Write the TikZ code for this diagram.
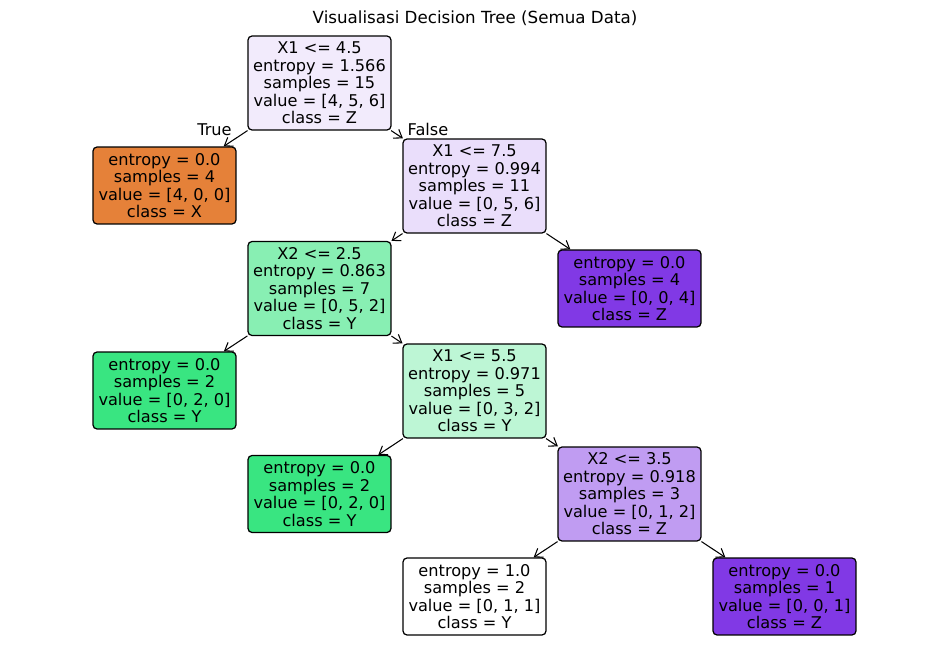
\documentclass[tikz,border=0pt]{standalone}
\usepackage{fontspec}
\setmainfont{DejaVu Sans}
\usetikzlibrary{arrows.meta}
\definecolor{oranye}{RGB}{229,129,57}
\definecolor{hijau}{RGB}{57,229,129}
\definecolor{ungu}{RGB}{129,57,229}
\definecolor{ungumuda}{RGB}{242,235,252}
\definecolor{ungusedang}{RGB}{234,222,251}
\definecolor{ungutua}{RGB}{192,156,242}
\definecolor{hijaumuda}{RGB}{189,246,213}
\definecolor{hijausedang}{RGB}{136,239,179}

\begin{document}
\begin{tikzpicture}[
    x=0.02cm, y=-0.02cm,
    font=\fontsize{9.2}{9.95}\selectfont,
    simpul/.style={draw, rounded corners=0.08cm, align=center, line width=0.7pt,
                   minimum width=2.86cm, minimum height=1.88cm, inner sep=0pt},
    daun/.style={simpul, minimum height=1.54cm},
    panah/.style={-{Straight Barb[length=1.5mm, width=2.1mm]}, line width=0.6pt},
    cabang/.style={inner sep=0pt}
  ]
    \useasboundingbox (0,0) rectangle (950,658);
    \node[font=\fontsize{9.5}{11}\selectfont] (judul) at (475,18) {Visualisasi Decision Tree (Semua Data)};
    \node[simpul, fill=ungumuda] (akar) at (319.5,83) {X1 <= 4.5\\entropy = 1.566\\samples = 15\\value = [4, 5, 6]\\class = Z};
    \node[daun, fill=oranye] (daunx) at (164.5,185.5) {entropy = 0.0\\samples = 4\\value = [4, 0, 0]\\class = X};
    \node[simpul, fill=ungusedang] (pecah1) at (474.5,186) {X1 <= 7.5\\entropy = 0.994\\samples = 11\\value = [0, 5, 6]\\class = Z};
    \node[daun, fill=ungu] (daunz4) at (629.5,288.5) {entropy = 0.0\\samples = 4\\value = [0, 0, 4]\\class = Z};
    \node[simpul, fill=hijausedang] (pecah2) at (319.5,288.5) {X2 <= 2.5\\entropy = 0.863\\samples = 7\\value = [0, 5, 2]\\class = Y};
    \node[daun, fill=hijau] (dauny1) at (164.5,390.5) {entropy = 0.0\\samples = 2\\value = [0, 2, 0]\\class = Y};
    \node[simpul, fill=hijaumuda] (pecah3) at (474.5,391) {X1 <= 5.5\\entropy = 0.971\\samples = 5\\value = [0, 3, 2]\\class = Y};
    \node[daun, fill=hijau] (dauny2) at (319.5,494) {entropy = 0.0\\samples = 2\\value = [0, 2, 0]\\class = Y};
    \node[simpul, fill=ungutua] (pecah4) at (629.5,494) {X2 <= 3.5\\entropy = 0.918\\samples = 3\\value = [0, 1, 2]\\class = Z};
    \node[daun, fill=white] (dauny3) at (474.5,596.5) {entropy = 1.0\\samples = 2\\value = [0, 1, 1]\\class = Y};
    \node[daun, fill=ungu] (daunz1) at (784.5,596.5) {entropy = 0.0\\samples = 1\\value = [0, 0, 1]\\class = Z};
    % label cabang akar
    \node[cabang] (benar) at (214.5,129.5) {True};
    \node[cabang] (salah) at (428,129.5) {False};
    \draw[panah] (akar) -- (daunx);
    \draw[panah] (akar) -- (pecah1);
    \draw[panah] (pecah1) -- (pecah2);
    \draw[panah] (pecah1) -- (daunz4);
    \draw[panah] (pecah2) -- (dauny1);
    \draw[panah] (pecah2) -- (pecah3);
    \draw[panah] (pecah3) -- (dauny2);
    \draw[panah] (pecah3) -- (pecah4);
    \draw[panah] (pecah4) -- (dauny3);
    \draw[panah] (pecah4) -- (daunz1);
  \end{tikzpicture}
\end{document}
